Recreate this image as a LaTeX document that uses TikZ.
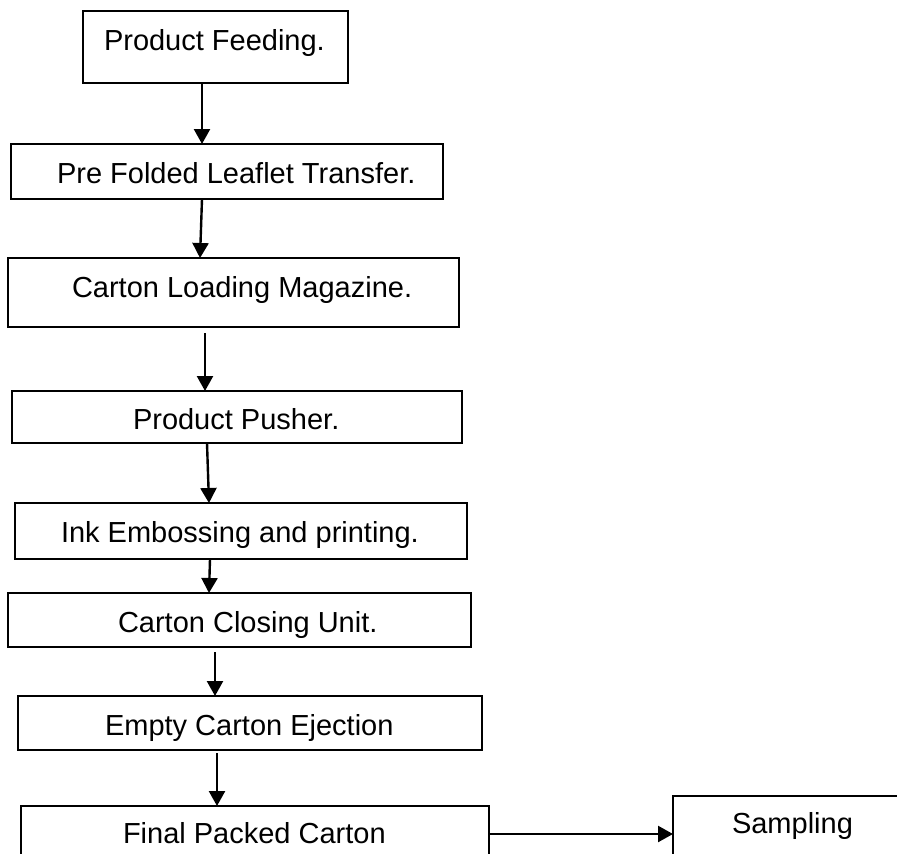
\documentclass[tikz,border=0pt]{standalone}
\usepackage{fontspec}
\setmainfont{Liberation Sans}
\usetikzlibrary{arrows.meta,calc}

\tikzset{
  stagebox/.style={draw=black, line width=2.4pt, rectangle, inner sep=0pt, outer sep=0pt, anchor=north west},
  stagetext/.style={inner sep=0pt, outer sep=0pt, anchor=base west, font=\fontsize{29}{34}\selectfont},
  flow/.style={line width=2.4pt, -{Triangle[length=15pt,width=16pt]}},
}

% box given by its top-left corner and its size (pt, y downwards)
\newcommand{\stage}[5]{\node[stagebox, minimum width=#4pt, minimum height=#5pt] (#1) at (#2,#3) {};}

\begin{document}
\begin{tikzpicture}[x=1pt,y=-1pt]
  \useasboundingbox (0,0) rectangle (897,854);
  \clip (0,0) rectangle (897,854);
  \fill[white] (0,0) rectangle (897,854);

  % process stages
  \stage{b1}{83}{11}{265}{72}
  \stage{b2}{11}{144}{432}{55}
  \stage{b3}{8}{258}{451}{69}
  \stage{b4}{12}{391}{450}{52}
  \stage{b5}{15}{503}{452}{56}
  \stage{b6}{8}{593}{463}{54}
  \stage{b7}{18}{696}{464}{54}
  \stage{b8}{21}{806}{468}{80}
  \stage{b9}{673}{796}{250}{90}

  % stage captions
  \node[stagetext] (t1) at (104,50)  {Product Feeding.};
  \node[stagetext] (t2) at (57,183)  {Pre Folded Leaflet Transfer.};
  \node[stagetext] (t3) at (72,297)  {Carton Loading Magazine.};
  \node[stagetext] (t4) at (133,429) {Product Pusher.};
  \node[stagetext] (t5) at (61,542)  {Ink Embossing and printing.};
  \node[stagetext] (t6) at (118,632) {Carton Closing Unit.};
  \node[stagetext] (t7) at (105,735) {Empty Carton Ejection};
  \node[stagetext] (t8) at (123,843) {Final Packed Carton};
  \node[stagetext] (t9) at (732,833) {Sampling};

  % flow arrows
  \draw[flow] ($(b1.south west)+(119,0)$) -- ($(b2.north west)+(191,0)$);
  \draw[flow] ($(b2.south west)+(191,0)$) -- ($(b3.north west)+(192,0)$);
  \draw[flow] ($(b3.south west)+(197,6)$) -- ($(b4.north west)+(193,0)$);
  \draw[flow] ($(b4.south west)+(195,0)$) -- ($(b5.north west)+(194,0)$);
  \draw[flow] ($(b5.south west)+(195,0)$) -- ($(b6.north west)+(201,0)$);
  \draw[flow] ($(b6.south west)+(207,5)$) -- ($(b7.north west)+(197,0)$);
  \draw[flow] ($(b7.south west)+(199,3)$) -- ($(b8.north west)+(196,0)$);
  \draw[flow] ($(b8.north east)+(0,28)$) -- ($(b9.north west)+(0,38)$);
\end{tikzpicture}
\end{document}
